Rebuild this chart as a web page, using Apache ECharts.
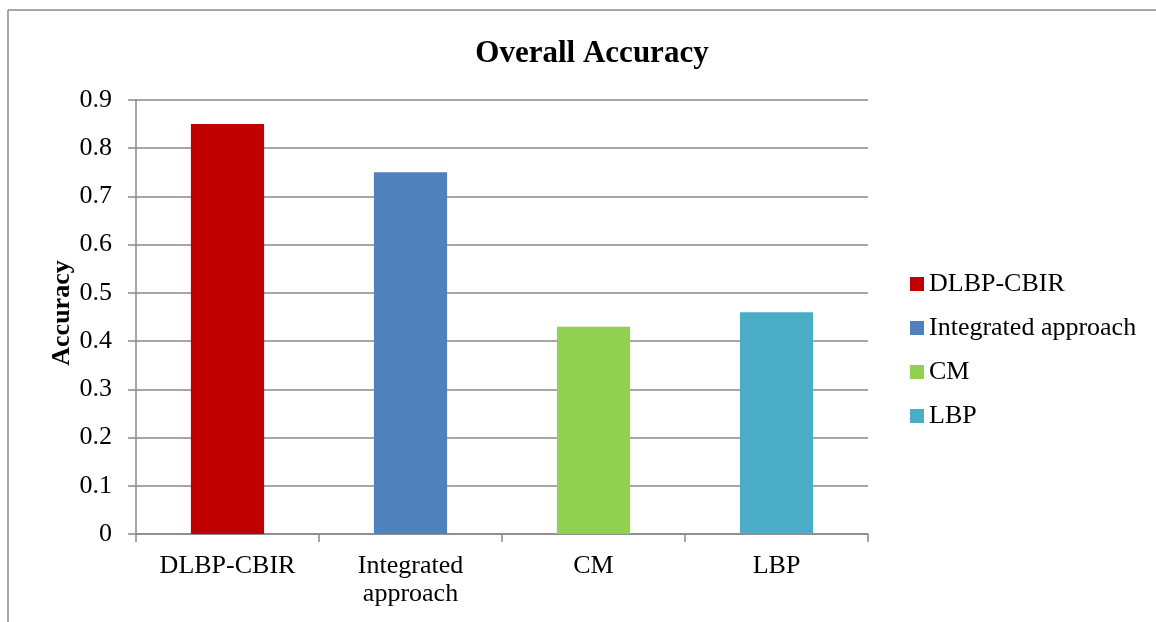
<!DOCTYPE html>
<html><head><meta charset="utf-8">
<script src="https://cdn.jsdelivr.net/npm/echarts@6/dist/echarts.min.js"></script>
<style>html,body{margin:0;padding:0;background:#fff}#c{width:1156px;height:622px}</style>
</head><body><div id="c"></div>
<script>
const categories = ['DLBP-CBIR', 'Integrated\napproach', 'CM', 'LBP'];
const seriesNames = ['DLBP-CBIR', 'Integrated approach', 'CM', 'LBP'];
const values = [0.85, 0.75, 0.43, 0.46];
const colors = ['#C00000', '#4F81BD', '#92D050', '#4BACC6'];
const yTicks = [0, 0.1, 0.2, 0.3, 0.4, 0.5, 0.6, 0.7, 0.8, 0.9];

const FONT = "'Liberation Serif', 'Times New Roman', serif";
const chart = echarts.init(document.getElementById('c'), null, {renderer: 'canvas'});
const series = seriesNames.map((n, i) => ({
  name: n,
  type: 'bar',
  stack: 'all',
  barWidth: '40%',
  itemStyle: {color: colors[i]},
  data: values.map((v, j) => (j === i ? v : '-'))
}));
chart.setOption({
  animation: false,
  textStyle: {fontFamily: FONT},
  title: {
    text: 'Overall Accuracy', left: 587, textAlign: 'center', top: 33,
    textStyle: {fontFamily: FONT, fontSize: 31, fontWeight: 'bold', color: '#000'}
  },
  graphic: [
    {type: 'line', shape: {x1: 8, y1: 10, x2: 8, y2: 622}, style: {stroke: '#888', lineWidth: 1.5}},
    {type: 'line', shape: {x1: 8, y1: 10, x2: 1156, y2: 10}, style: {stroke: '#888', lineWidth: 1.5}}
  ],
  legend: {
    orient: 'vertical', left: 905, top: 266,
    itemWidth: 14, itemHeight: 14, itemGap: 18, icon: 'rect',
    data: seriesNames,
    textStyle: {fontFamily: FONT, fontSize: 26, color: '#000'}
  },
  grid: {left: 136, right: 288, top: 100, bottom: 88},
  xAxis: {
    type: 'category', data: categories,
    axisLine: {lineStyle: {color: '#888', width: 1.5}},
    axisTick: {show: true, length: 8, lineStyle: {color: '#888', width: 1.5}},
    axisLabel: {fontFamily: FONT, fontSize: 26, color: '#000', margin: 18, lineHeight: 28, interval: 0}
  },
  yAxis: {
    type: 'value', min: 0, max: 0.9, interval: 0.1,
    name: 'Accuracy', nameLocation: 'middle', nameGap: 61, nameRotate: 90,
    nameMoveOverlap: false,
    nameTextStyle: {fontFamily: FONT, fontSize: 26, fontWeight: 'bold', color: '#000', padding: [0, 0, 0, 8]},
    axisLine: {show: true, lineStyle: {color: '#888', width: 1.5}},
    axisTick: {show: true, length: 8, lineStyle: {color: '#888', width: 1.5}},
    splitLine: {lineStyle: {color: '#888', width: 1.5}},
    axisLabel: {fontFamily: FONT, fontSize: 26, color: '#000', margin: 24,
      formatter: v => { const t = yTicks.find(x => Math.abs(x - v) < 1e-9); return t === undefined ? '' : String(t); }}
  },
  series: series
});
</script></body></html>
